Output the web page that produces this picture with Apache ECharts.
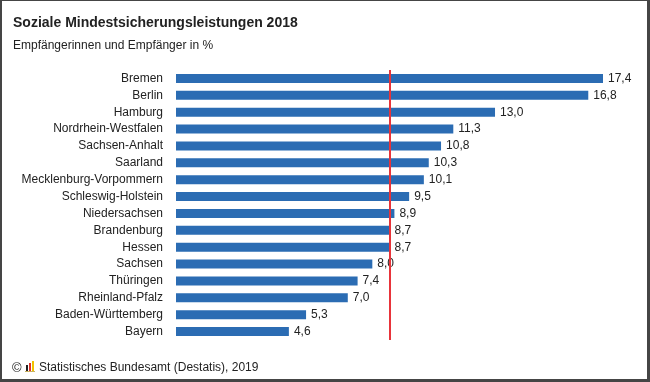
<!DOCTYPE html>
<html>
<head>
<meta charset="utf-8">
<script src="https://cdn.jsdelivr.net/npm/echarts@6/dist/echarts.min.js"></script>
<style>
html,body{margin:0;padding:0;background:#fff;}
#wrap{position:relative;width:650px;height:382px;}
#chart{position:absolute;left:0;top:0;width:650px;height:382px;}
#frame{position:absolute;left:0;top:0;width:650px;height:382px;box-sizing:border-box;border-style:solid;border-color:#454545;border-width:1px 3px 3px 2px;pointer-events:none;}
</style>
</head>
<body>
<div id="wrap"><div id="chart"></div><div id="frame"></div></div>
<script>
const categories = ["Bremen","Berlin","Hamburg","Nordrhein-Westfalen","Sachsen-Anhalt","Saarland","Mecklenburg-Vorpommern","Schleswig-Holstein","Niedersachsen","Brandenburg","Hessen","Sachsen","Thüringen","Rheinland-Pfalz","Baden-Württemberg","Bayern"];
const values = [17.4,16.8,13.0,11.3,10.8,10.3,10.1,9.5,8.9,8.7,8.7,8.0,7.4,7.0,5.3,4.6];
const average = [8.7];

const FONT = '"Liberation Sans", Arial, Helvetica, sans-serif';
const chart = echarts.init(document.getElementById('chart'), null, {renderer:'canvas'});
chart.setOption({
  animation:false,
  backgroundColor:'#fff',
  textStyle:{fontFamily:FONT},
  title:[
    {text:'Soziale Mindestsicherungsleistungen 2018', left:13, top:16, padding:0,
     textStyle:{fontFamily:FONT,fontSize:14,fontWeight:'bold',color:'#222'}},
    {text:'Empfängerinnen und Empfänger in %', left:13, top:40, padding:0,
     textStyle:{fontFamily:FONT,fontSize:12,fontWeight:'normal',color:'#222'}},
    {text:'Statistisches Bundesamt (Destatis), 2019', left:39, top:362, padding:0,
     textStyle:{fontFamily:FONT,fontSize:12,fontWeight:'normal',color:'#222'}}
  ],
  graphic:[
    {type:'text', left:12, top:362, style:{text:'©', font:'13px '+FONT, fill:'#222'}},
    {type:'rect', shape:{x:26,y:365,width:2,height:6}, style:{fill:'#222'}},
    {type:'rect', shape:{x:29,y:363,width:2,height:8}, style:{fill:'#e0312b'}},
    {type:'rect', shape:{x:32,y:361,width:2,height:10}, style:{fill:'#f2c200'}},
    {type:'rect', shape:{x:25,y:371,width:10,height:1}, style:{fill:'#c8b060'}}
  ],
  grid:{left:176, right:47, top:70, bottom:42, containLabel:false},
  xAxis:{type:'value', min:0, max:17.4, show:false},
  yAxis:{type:'category', data:categories, inverse:true,
    axisLine:{show:false}, axisTick:{show:false}, splitLine:{show:false},
    axisLabel:{fontFamily:FONT, fontSize:12, color:'#222', margin:13}},
  series:[{
    type:'bar', data:values, barWidth:9,
    itemStyle:{color:'#2b6cb3'},
    label:{show:true, position:'right', distance:5, fontFamily:FONT, fontSize:12, color:'#222',
      formatter:p=>p.value.toFixed(1).replace('.',',')},
    markLine:{silent:true, symbol:'none', label:{show:false},
      lineStyle:{color:'#e8343a', type:'solid', width:2},
      data:[{xAxis:average[0]}]}
  }]
});
</script>
</body>
</html>
